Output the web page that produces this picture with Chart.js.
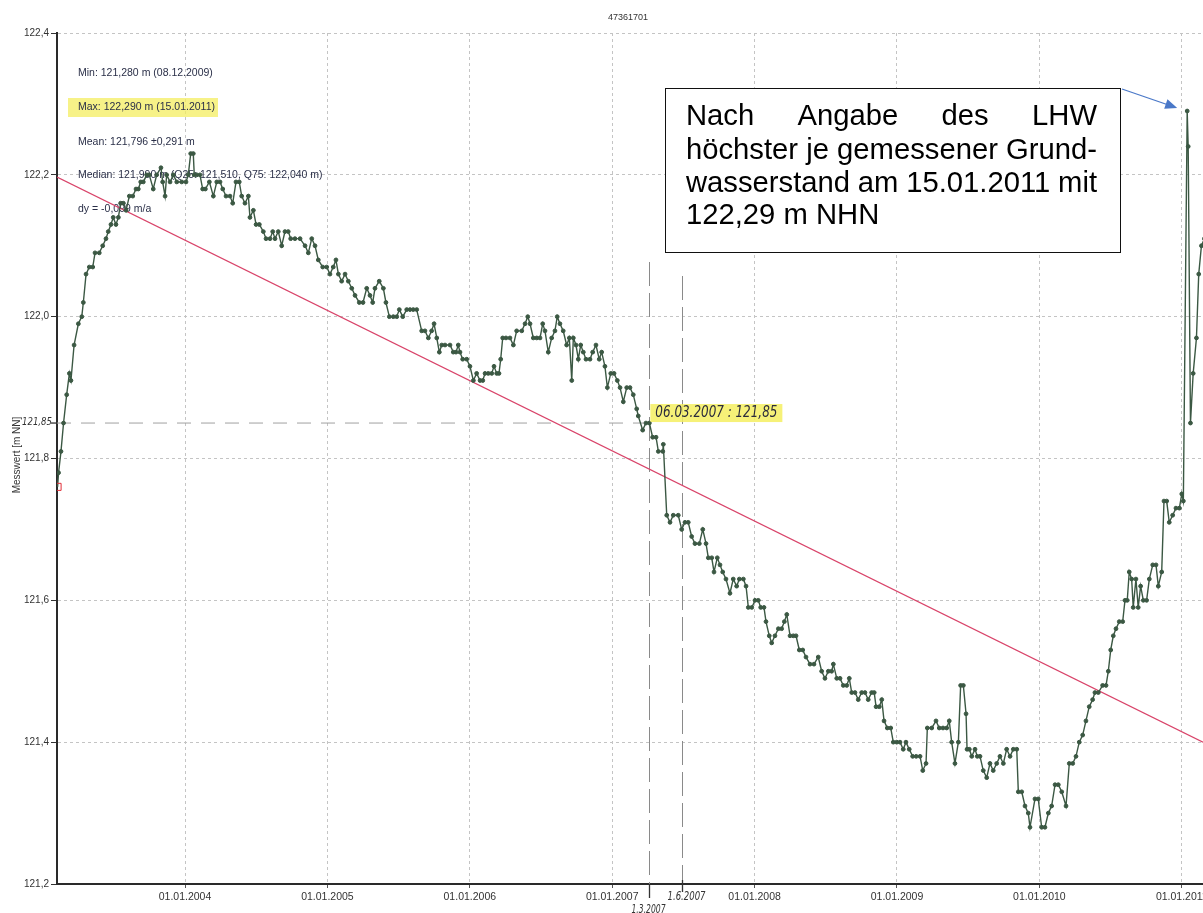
<!DOCTYPE html>
<html>
<head>
<meta charset="utf-8">
<script src="https://cdn.jsdelivr.net/npm/chart.js@4.4.1/dist/chart.umd.min.js"></script>
<style>
  html, body { margin: 0; padding: 0; background: #ffffff; }
  canvas { display: block; }
</style>
</head>
<body>
<canvas id="chart" width="1203" height="913"></canvas>
<script>
// Gauge 47361701 – groundwater level, decimal year vs. level in m NN
const measureYears = [
  2003.105,2003.112,2003.129,2003.147,2003.169,2003.188,2003.199,2003.221,2003.251,2003.275,
  2003.286,2003.305,2003.328,2003.352,2003.368,2003.398,2003.422,2003.445,2003.461,2003.480,
  2003.496,2003.515,2003.532,2003.548,2003.567,2003.586,2003.609,2003.633,2003.656,2003.672,
  2003.689,2003.707,2003.731,2003.749,2003.777,2003.801,2003.831,2003.843,2003.860,2003.871,
  2003.895,2003.918,2003.942,2003.977,
  2004.007,2004.023,2004.040,2004.058,2004.065,2004.082,2004.105,2004.124,2004.143,2004.171,
  2004.199,2004.223,2004.246,2004.265,2004.288,2004.316,2004.335,2004.358,2004.381,2004.398,
  2004.421,2004.445,2004.456,2004.480,2004.499,2004.522,2004.550,2004.569,2004.597,2004.616,
  2004.632,2004.655,2004.679,2004.702,2004.725,2004.742,2004.772,2004.808,2004.843,2004.866,
  2004.890,2004.913,2004.936,2004.967,2004.995,
  2005.018,2005.041,2005.060,2005.077,2005.100,2005.124,2005.147,2005.171,2005.194,2005.224,
  2005.250,2005.276,2005.299,2005.318,2005.334,2005.364,2005.393,2005.411,2005.435,2005.463,
  2005.487,2005.505,2005.529,2005.557,2005.580,2005.603,2005.627,2005.662,2005.685,2005.709,
  2005.732,2005.749,2005.768,2005.786,2005.803,2005.826,2005.861,2005.884,2005.903,2005.919,
  2005.931,2005.950,2005.978,
  2006.001,2006.025,2006.048,2006.072,2006.091,2006.107,2006.130,2006.154,2006.170,2006.189,
  2006.205,2006.217,2006.231,2006.254,2006.282,2006.306,2006.329,2006.365,2006.388,2006.407,
  2006.423,2006.446,2006.470,2006.493,2006.512,2006.528,2006.551,2006.575,2006.598,2006.614,
  2006.633,2006.656,2006.680,2006.699,2006.716,2006.727,2006.746,2006.762,2006.779,2006.797,
  2006.816,2006.844,2006.863,2006.886,2006.909,2006.926,2006.949,2006.966,2006.990,
  2007.013,2007.036,2007.055,2007.078,2007.102,2007.125,2007.148,2007.172,2007.183,2007.214,
  2007.237,2007.261,2007.284,2007.308,2007.324,2007.355,2007.359,2007.383,2007.406,2007.429,
  2007.464,2007.488,2007.511,2007.534,2007.558,2007.581,2007.612,2007.636,2007.659,2007.675,
  2007.699,2007.715,2007.738,2007.757,2007.776,2007.799,2007.827,2007.850,2007.874,2007.893,
  2007.921,2007.940,2007.956,2007.980,
  2008.003,2008.026,2008.043,2008.066,2008.080,2008.103,2008.120,2008.143,2008.167,2008.190,
  2008.209,2008.226,2008.249,2008.272,2008.291,2008.314,2008.338,2008.361,2008.389,2008.417,
  2008.447,2008.471,2008.494,2008.518,2008.541,2008.553,2008.577,2008.600,2008.623,2008.647,
  2008.665,2008.682,2008.705,2008.728,2008.752,2008.775,2008.798,2008.822,2008.840,2008.853,
  2008.876,2008.893,2008.909,2008.932,2008.956,2008.974,2008.998,
  2009.021,2009.044,2009.063,2009.086,2009.110,2009.135,2009.162,2009.181,2009.204,2009.213,
  2009.244,2009.274,2009.297,2009.323,2009.349,2009.367,2009.384,2009.407,2009.431,2009.447,
  2009.466,2009.485,2009.492,2009.508,2009.525,2009.548,2009.564,2009.583,2009.606,2009.630,
  2009.653,2009.676,2009.700,2009.723,2009.747,2009.770,2009.794,2009.817,2009.841,2009.852,
  2009.876,2009.899,2009.922,2009.934,2009.969,2009.992,
  2010.016,2010.039,2010.063,2010.086,2010.110,2010.133,2010.157,2010.187,2010.210,2010.234,
  2010.257,2010.280,2010.304,2010.327,2010.350,2010.374,2010.390,2010.414,2010.444,2010.468,
  2010.484,2010.501,2010.519,2010.538,2010.561,2010.585,2010.601,2010.617,2010.631,2010.648,
  2010.659,2010.678,2010.694,2010.711,2010.730,2010.753,2010.772,2010.796,2010.819,2010.835,
  2010.859,2010.875,2010.894,2010.912,2010.936,2010.959,2010.983,
  2011.000,2011.011,2011.038,2011.045,2011.061,2011.080,2011.103,2011.119,2011.138,2011.159
];

const measureLevels = [
  121.76,121.78,121.81,121.85,121.89,121.92,121.91,121.96,121.99,122.00,
  122.02,122.06,122.07,122.07,122.09,122.09,122.10,122.11,122.12,122.13,
  122.14,122.13,122.14,122.16,122.16,122.15,122.17,122.17,122.18,122.18,
  122.19,122.19,122.20,122.20,122.18,122.20,122.21,122.19,122.17,122.20,
  122.19,122.20,122.19,122.19,
  122.19,122.20,122.23,122.23,122.20,122.20,122.20,122.18,122.18,122.19,
  122.17,122.19,122.19,122.18,122.17,122.17,122.16,122.19,122.19,122.17,
  122.16,122.17,122.14,122.15,122.13,122.13,122.12,122.11,122.11,122.12,
  122.11,122.12,122.10,122.12,122.12,122.11,122.11,122.11,122.10,122.09,
  122.11,122.10,122.08,122.07,122.07,
  122.06,122.07,122.08,122.06,122.05,122.06,122.05,122.04,122.03,122.02,
  122.02,122.04,122.03,122.02,122.04,122.05,122.04,122.02,122.00,122.00,
  122.00,122.01,122.00,122.01,122.01,122.01,122.01,121.98,121.98,121.97,
  121.98,121.99,121.97,121.95,121.96,121.96,121.96,121.95,121.95,121.96,
  121.95,121.94,121.94,
  121.93,121.91,121.92,121.91,121.91,121.92,121.92,121.92,121.93,121.92,
  121.92,121.94,121.97,121.97,121.97,121.96,121.98,121.98,121.99,122.00,
  121.99,121.97,121.97,121.97,121.99,121.98,121.95,121.97,121.98,122.00,
  121.99,121.98,121.96,121.97,121.91,121.97,121.96,121.94,121.96,121.95,
  121.94,121.94,121.95,121.96,121.94,121.95,121.93,121.90,121.92,
  121.92,121.91,121.90,121.88,121.90,121.90,121.89,121.87,121.86,121.84,
  121.85,121.85,121.83,121.83,121.81,121.81,121.82,121.72,121.71,121.72,
  121.72,121.70,121.71,121.71,121.69,121.68,121.68,121.70,121.68,121.66,
  121.66,121.64,121.66,121.65,121.64,121.63,121.61,121.63,121.62,121.63,
  121.63,121.62,121.59,121.59,
  121.60,121.60,121.59,121.59,121.57,121.55,121.54,121.55,121.56,121.56,
  121.57,121.58,121.55,121.55,121.55,121.53,121.53,121.52,121.51,121.51,
  121.52,121.50,121.49,121.50,121.50,121.51,121.49,121.49,121.48,121.48,
  121.49,121.47,121.47,121.46,121.47,121.47,121.46,121.47,121.47,121.45,
  121.45,121.46,121.43,121.42,121.42,121.40,121.40,
  121.40,121.39,121.40,121.39,121.38,121.38,121.38,121.36,121.37,121.42,
  121.42,121.43,121.42,121.42,121.42,121.43,121.40,121.37,121.40,121.48,
  121.48,121.44,121.39,121.39,121.38,121.39,121.38,121.38,121.36,121.35,
  121.37,121.36,121.37,121.38,121.37,121.39,121.38,121.39,121.39,121.33,
  121.33,121.31,121.30,121.28,121.32,121.32,
  121.28,121.28,121.30,121.31,121.34,121.34,121.33,121.31,121.37,121.37,
  121.38,121.40,121.41,121.43,121.45,121.46,121.47,121.47,121.48,121.48,
  121.50,121.53,121.55,121.56,121.57,121.57,121.60,121.60,121.64,121.63,
  121.59,121.63,121.59,121.62,121.60,121.60,121.63,121.65,121.65,121.62,
  121.64,121.74,121.74,121.71,121.72,121.73,121.73,
  121.75,121.74,122.29,122.24,121.85,121.92,121.97,122.06,122.10,122.11
];

// Linear trend (dy = -0,099 m/a) at the ends of the time axis
const trendYears  = [2003.101, 2011.149];
const trendLevels = [122.197, 121.400];

// Axis ranges and tick labels
const axisYearMin = 2003.101;
const axisYearMax = 2011.149;
const tickYears  = [2004, 2005, 2006, 2007, 2008, 2009, 2010, 2011];
const tickLabels = ['01.01.2004', '01.01.2005', '01.01.2006', '01.01.2007',
                    '01.01.2008', '01.01.2009', '01.01.2010', '01.01.2011'];
const levelMin = 121.2, levelMax = 122.4, levelStep = 0.2;

// Statistics and hand-made notes
const chartTitle = '47361701';
const axisTitle = 'Messwert [m NN]';
const statsLines = [
  'Min: 121,280 m (08.12.2009)',
  'Max: 122,290 m (15.01.2011)',
  'Mean: 121,796 ±0,291 m',
  'Median: 121,990 m (Q25: 121,510, Q75: 122,040 m)',
  'dy = -0,099 m/a'
];
const refYear = 2007.261, refLevel = 121.85;          // 06.03.2007 : 121,85
const refText = '06.03.2007 : 121,85';
const refAxisText = '121,85';
const markYears = [2007.258, 2007.488];
const markTexts = ['1.3.2007', '1.6.2007'];
const noteLines = ['Nach Angabe des LHW', 'höchster je gemessener Grund-',
                   'wasserstand am 15.01.2011 mit', '122,29 m NHN'];
const peakYear = 2011.038, peakLevel = 122.29;

const FONT = '"Liberation Sans", Arial, Helvetica, sans-serif';
const HAND = '"DejaVu Sans", "Liberation Sans", sans-serif';
const GREEN = '#3b5843';
const TREND = '#d9446a';

const levelPoints = measureYears.map((t, i) => ({ x: t, y: measureLevels[i] }));
const trendPoints = trendYears.map((t, i) => ({ x: t, y: trendLevels[i] }));
const fmtLevel = v => v.toFixed(1).replace('.', ',');

const notes = {
  id: 'notes',
  beforeDatasetsDraw(chart) {
    const { ctx, chartArea: a, scales: { x, y } } = chart;
    ctx.save();
    // reference level line at 121,85 up to the marked reading
    const yRef = y.getPixelForValue(refLevel);
    ctx.strokeStyle = '#a0a0a0';
    ctx.lineWidth = 1;
    ctx.setLineDash([14, 10]);
    ctx.beginPath();
    ctx.moveTo(a.left, yRef);
    ctx.lineTo(x.getPixelForValue(refYear), yRef);
    ctx.stroke();
    // vertical date marks
    ctx.strokeStyle = '#8a8a8a';
    ctx.setLineDash([24, 7]);
    const tops = [262, 276];
    markYears.forEach((t, i) => {
      const px = Math.round(x.getPixelForValue(t)) + 0.5;
      ctx.beginPath();
      ctx.moveTo(px, tops[i]);
      ctx.lineTo(px, a.bottom);
      ctx.stroke();
    });
    ctx.setLineDash([]);

    // statistics block
    ctx.fillStyle = 'rgba(244, 238, 96, 0.75)';
    ctx.fillRect(a.left + 11, 98, 150, 19);
    ctx.font = '10.5px ' + FONT;
    ctx.fillStyle = '#2a2f48';
    ctx.textAlign = 'left';
    ctx.textBaseline = 'middle';
    const rows = [73, 107, 142, 175, 209];
    statsLines.forEach((s, i) => ctx.fillText(s, a.left + 21, rows[i]));
    ctx.restore();
  },
  afterDraw(chart) {
    const { ctx, chartArea: a, scales: { x, y } } = chart;
    ctx.save();
    // title
    ctx.font = '9px ' + FONT;
    ctx.fillStyle = '#333';
    ctx.textAlign = 'center';
    ctx.textBaseline = 'middle';
    ctx.fillText(chartTitle, 628, 18);

    // y axis title
    ctx.save();
    ctx.translate(17, 455);
    ctx.rotate(-Math.PI / 2);
    ctx.font = '10px ' + FONT;
    ctx.fillStyle = '#333';
    ctx.fillText(axisTitle, 0, 0);
    ctx.restore();

    // hand-written level on the axis
    const yRef = y.getPixelForValue(refLevel);
    ctx.strokeStyle = '#333';
    ctx.lineWidth = 1.3;
    ctx.beginPath();
    ctx.moveTo(a.left - 6, yRef);
    ctx.lineTo(a.left, yRef);
    ctx.stroke();
    ctx.font = 'italic 11px ' + HAND;
    ctx.fillStyle = '#333';
    ctx.textAlign = 'right';
    ctx.fillText(refAxisText, a.left - 5, yRef - 1, 30);

    // hand-written date marks under the axis
    const m0 = Math.round(x.getPixelForValue(markYears[0])) + 0.5;
    const m1 = Math.round(x.getPixelForValue(markYears[1])) + 0.5;
    ctx.lineWidth = 1.3;
    ctx.beginPath();
    ctx.moveTo(m0, a.bottom); ctx.lineTo(m0, a.bottom + 14);
    ctx.moveTo(m1, a.bottom - 4); ctx.lineTo(m1, a.bottom + 8);
    ctx.stroke();
    ctx.font = 'italic 12px ' + HAND;
    ctx.textAlign = 'center';
    ctx.fillText(markTexts[0], m0 - 1, a.bottom + 26, 34);
    ctx.fillText(markTexts[1], m1 + 4, a.bottom + 13, 38);

    // highlighted reading label
    const lx = x.getPixelForValue(refYear) + 1;
    ctx.fillStyle = 'rgba(244, 238, 96, 0.85)';
    ctx.fillRect(lx, yRef - 19, 132, 18);
    ctx.fillStyle = '#2c2c3c';
    ctx.font = 'italic 15px ' + HAND;
    ctx.textAlign = 'left';
    ctx.fillText(refText, lx + 5, yRef - 10, 122);

    // note box
    const bx = 665, by = 88, bw = 455, bh = 164;
    ctx.fillStyle = '#ffffff';
    ctx.fillRect(bx, by, bw, bh);
    ctx.strokeStyle = '#111';
    ctx.lineWidth = 1;
    ctx.strokeRect(bx + 0.5, by + 0.5, bw, bh);
    const textLeft = bx + 21, textWidth = 411;
    ctx.font = '100px ' + FONT;
    const size = 100 * textWidth / ctx.measureText(noteLines[1]).width;
    ctx.font = size.toFixed(2) + 'px ' + FONT;
    ctx.fillStyle = '#000';
    ctx.textAlign = 'left';
    const lineY = [117, 151, 184, 216];
    noteLines.forEach((line, i) => {
      if (i === noteLines.length - 1) { ctx.fillText(line, textLeft, lineY[i]); return; }
      const words = line.split(' ');
      const used = words.reduce((s, w) => s + ctx.measureText(w).width, 0);
      const gap = (textWidth - used) / (words.length - 1);
      let cx = textLeft;
      words.forEach(w => { ctx.fillText(w, cx, lineY[i]); cx += ctx.measureText(w).width + gap; });
    });

    // arrow to the peak reading
    const tx = x.getPixelForValue(peakYear) - 10, ty = y.getPixelForValue(peakLevel) - 3;
    const sx = bx + bw + 2, sy = by + 1;
    const ang = Math.atan2(ty - sy, tx - sx);
    ctx.strokeStyle = '#4a78c8';
    ctx.fillStyle = '#4a78c8';
    ctx.lineWidth = 1.3;
    ctx.beginPath();
    ctx.moveTo(sx, sy);
    ctx.lineTo(tx - 10 * Math.cos(ang), ty - 10 * Math.sin(ang));
    ctx.stroke();
    ctx.beginPath();
    ctx.moveTo(tx, ty);
    ctx.lineTo(tx - 12 * Math.cos(ang) + 5 * Math.sin(ang), ty - 12 * Math.sin(ang) - 5 * Math.cos(ang));
    ctx.lineTo(tx - 12 * Math.cos(ang) - 5 * Math.sin(ang), ty - 12 * Math.sin(ang) + 5 * Math.cos(ang));
    ctx.closePath();
    ctx.fill();
    ctx.restore();
  }
};

new Chart(document.getElementById('chart'), {
  type: 'line',
  data: {
    datasets: [
      {
        label: 'Messwert',
        data: levelPoints,
        borderColor: GREEN,
        backgroundColor: GREEN,
        borderWidth: 1.4,
        tension: 0,
        pointStyle: c => c.dataIndex === 0 ? 'rect' : 'circle',
        pointRadius: c => c.dataIndex === 0 ? 5 : 1.9,
        pointBorderColor: c => c.dataIndex === 0 ? '#e0303a' : GREEN,
        pointBackgroundColor: c => c.dataIndex === 0 ? 'rgba(0,0,0,0)' : GREEN,
        pointBorderWidth: 1,
        order: 1
      },
      {
        label: 'Trend',
        data: trendPoints,
        borderColor: TREND,
        borderWidth: 1.3,
        pointRadius: 0,
        tension: 0,
        order: 2
      }
    ]
  },
  options: {
    responsive: false,
    animation: false,
    events: [],
    layout: { autoPadding: false, padding: { top: 33, left: 0, right: 0, bottom: 0 } },
    plugins: { legend: { display: false }, title: { display: false }, tooltip: { enabled: false } },
    scales: {
      x: {
        type: 'linear',
        min: axisYearMin,
        max: axisYearMax,
        afterBuildTicks: s => { s.ticks = tickYears.map(v => ({ value: v })); },
        afterFit: s => { s.height = 29; s.paddingLeft = 0; s.paddingRight = 0; },
        ticks: {
          callback: (v, i) => tickLabels[i],
          autoSkip: false, maxRotation: 0, minRotation: 0,
          padding: 3,
          color: '#333',
          font: { family: FONT, size: 10.5 }
        },
        grid: { color: '#c4c4c4', lineWidth: 1, tickLength: 4, tickColor: '#555' },
        border: { display: true, color: '#2a2a2a', width: 2, dash: [3, 3] }
      },
      y: {
        min: levelMin,
        max: levelMax,
        afterBuildTicks: s => {
          const t = [];
          for (let v = levelMin; v <= levelMax + 1e-9; v += levelStep) t.push({ value: +v.toFixed(1) });
          s.ticks = t;
        },
        afterFit: s => { s.width = 57; s.paddingTop = 0; s.paddingBottom = 0; },
        ticks: {
          callback: v => fmtLevel(v),
          padding: 2,
          color: '#333',
          font: { family: FONT, size: 10 }
        },
        grid: { color: '#c4c4c4', lineWidth: 1, tickLength: 6, tickColor: '#333' },
        border: { display: true, color: '#2a2a2a', width: 2, dash: [3, 3] }
      }
    }
  },
  plugins: [notes]
});
</script>
</body>
</html>
